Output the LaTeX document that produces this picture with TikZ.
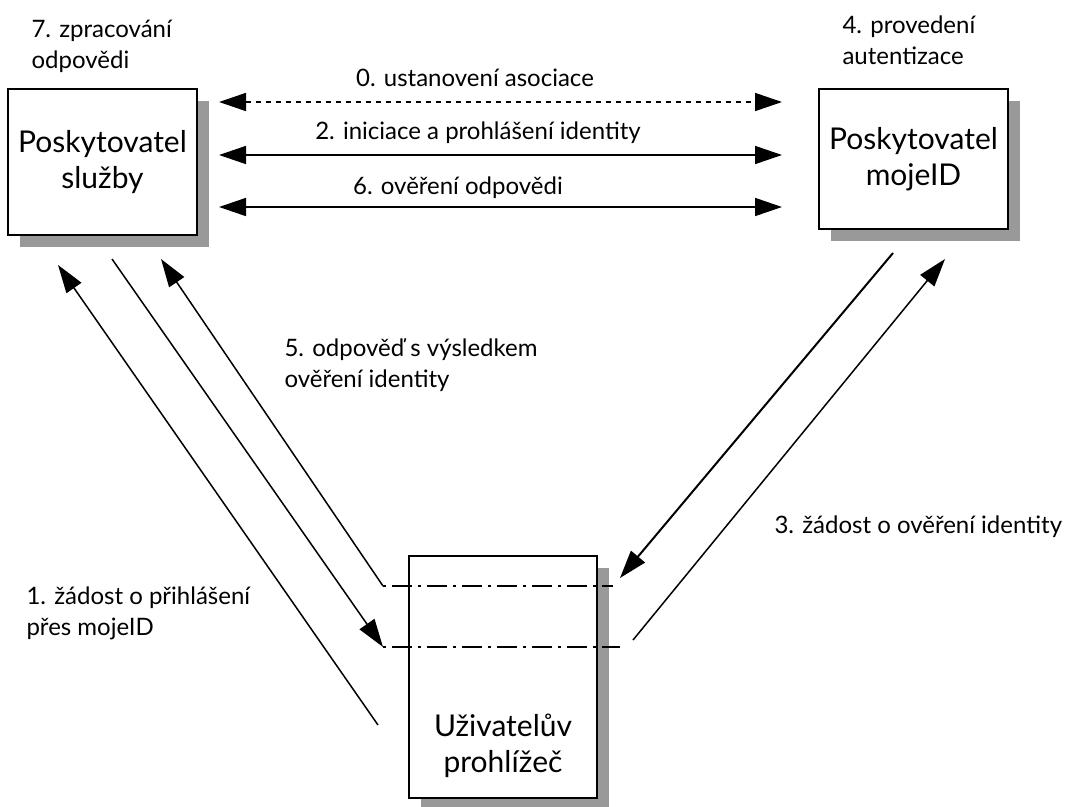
\documentclass[tikz,border=0pt]{standalone}
\usepackage{fontspec}
\setmainfont{Lato}
\usetikzlibrary{arrows.meta,shadows}

\begin{document}
\begin{tikzpicture}[x=1pt, y=-1pt,
    box/.style={draw, line width=2pt, fill=white, align=center, font=\fontsize{30}{36}\selectfont,
        drop shadow={shadow xshift=12pt, shadow yshift=-12pt, fill=black!40, opacity=1}},
    lbl/.style={align=left, font=\fontsize{24}{31}\selectfont},
    msg/.style={line width=1.6pt, {Triangle[length=27pt,width=18pt]}-{Triangle[length=27pt,width=18pt]}},
    flow/.style={line width=1.5pt, -{Triangle[length=28pt,width=18pt]}},
    sess/.style={line width=1.5pt, dash pattern=on 3pt off 6pt on 20pt off 6pt}]
    \useasboundingbox (0,0) rectangle (1065,806);

    % Parties
    \node[box, minimum width=189pt, minimum height=146pt] (sp) at (102.5,162) {Poskytovatel\\služby};
    \node[box, minimum width=189pt, minimum height=140pt] (mid) at (913.5,159) {Poskytovatel\\mojeID};
    \node[box, minimum width=188pt, minimum height=242pt] (ua) at (503,677) {};
    \node[align=center, font=\fontsize{30}{36}\selectfont, above=18pt] at (ua.south) {Uživatelův\\prohlížeč};

    % Step labels at the parties
    \node[lbl, anchor=west] (l7) at (28,46) {7. zpracování\\odpovědi};
    \node[lbl, anchor=west] (l4) at (839,40) {4. provedení\\autentizace};

    % Messages between the two providers
    \draw[msg, dash pattern=on 5pt off 5pt, shorten <=21pt, shorten >=36pt] ([yshift=60pt]sp.east) -- ([yshift=57pt]mid.west);
    \draw[msg, shorten <=21pt, shorten >=36pt] ([yshift=7pt]sp.east) -- ([yshift=4pt]mid.west);
    \draw[msg, shorten <=21pt, shorten >=36pt] ([yshift=-45pt]sp.east) -- ([yshift=-48pt]mid.west);
    \node[lbl] (l0) at (475,78) {0. ustanovení asociace};
    \node[lbl] (l2) at (478,133) {2. iniciace a prohlášení identity};
    \node[lbl] (l6) at (458,188) {6. ověření odpovědi};

    % Browser session levels
    \coordinate (s1a) at (383,586);
    \coordinate (s1b) at (613,586);
    \coordinate (s2a) at (383,647);
    \coordinate (s2b) at (620,647);
    \draw[sess] (s1a) -- (s1b);
    \draw[sess] (s2a) -- (s2b);

    % Redirects through the browser
    \coordinate (a1) at (378,725);
    \coordinate (a1t) at (58,265);
    \coordinate (b1) at (112,259);
    \coordinate (c1) at (161,259);
    \coordinate (d1) at (893,253);
    \coordinate (d1t) at (620,578);
    \coordinate (e1) at (633,640);
    \coordinate (e1t) at (945,259);
    \draw[flow] (a1) -- (a1t);
    \draw[flow] (b1) -- (s2a);
    \draw[flow] (s1a) -- (c1);
    \draw[flow, line width=2pt] (d1) -- (d1t);
    \draw[flow] (e1) -- (e1t);

    \node[lbl, anchor=west] (l5) at (281,365) {5. odpověď s výsledkem\\ověření identity};
    \node[lbl, anchor=west] (l1) at (23,613) {1. žádost o přihlášení\\přes mojeID};
    \node[lbl, anchor=west] (l3) at (771,527) {3. žádost o ověření identity};
\end{tikzpicture}
\end{document}
